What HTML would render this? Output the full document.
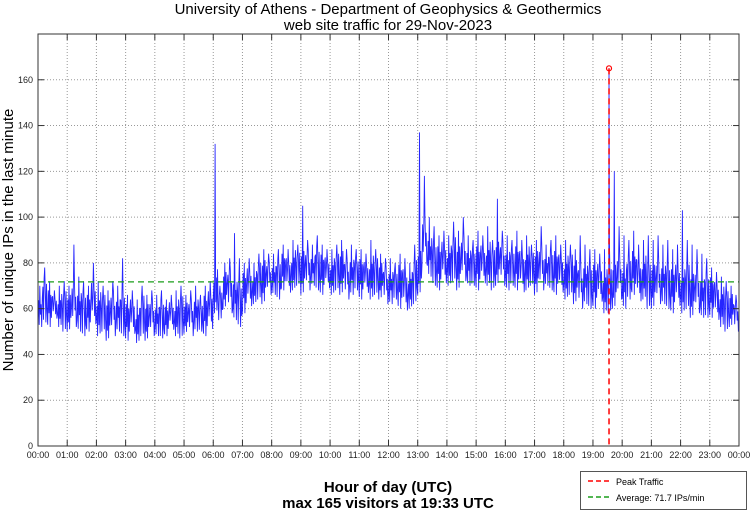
<!DOCTYPE html>
<html><head><meta charset="utf-8"><style>
body{margin:0;background:#fff;font-family:"Liberation Sans",sans-serif;}
svg text{font-family:"Liberation Sans",sans-serif;}
</style></head><body>
<svg id="chart" width="750" height="511" xmlns="http://www.w3.org/2000/svg">
<text x="388" y="14" font-size="15" text-anchor="middle">University of Athens - Department of Geophysics &amp; Geothermics</text>
<text x="388" y="30" font-size="15" text-anchor="middle">web site traffic for 29-Nov-2023</text>
<g id="grid"></g>
<g id="series"></g>
<rect x="38" y="34" width="701" height="412" fill="none" stroke="#333" stroke-width="1"/>
<g id="ticks"></g>
<text transform="translate(13,240) rotate(-90)" font-size="15" text-anchor="middle">Number of unique IPs in the last minute</text>
<text x="388" y="492" font-size="15" font-weight="bold" text-anchor="middle">Hour of day (UTC)</text>
<text x="388" y="508" font-size="15" font-weight="bold" text-anchor="middle">max 165 visitors at 19:33 UTC</text>
<g>
<rect x="580.5" y="471.5" width="166" height="38" fill="#fff" stroke="#555"/>
<line x1="588" y1="481" x2="612" y2="481" stroke="#f00" stroke-width="1.5" stroke-dasharray="5,3"/>
<text x="616" y="485" font-size="9">Peak Traffic</text>
<line x1="588" y1="497" x2="612" y2="497" stroke="#1a9e1a" stroke-width="1.5" stroke-dasharray="5,3"/>
<text x="616" y="501" font-size="9">Average: 71.7 IPs/min</text>
</g>
</svg>
<script>
const hiVals=[70,78,72,68,70,72, 70,88,74,72,70,80, 72,70,68,72,70,82, 66,68,64,70,66,68,
66,68,64,66,68,70, 66,68,70,66,70,72, 132,70,80,82,93,82, 80,82,80,84,86,84,
84,86,88,86,90,88, 105,90,88,92,88,86, 86,88,90,86,88,86, 86,84,90,86,84,82,
82,80,84,82,80,88, 137,118,100,96,92,94, 92,98,94,100,92,90, 94,92,96,90,108,94,
92,90,94,90,92,88, 90,96,88,90,92,88, 90,88,86,92,88,86, 86,84,86,90,120,96,
92,90,94,88,90,92, 90,92,88,90,86,88, 103,90,88,86,84,82, 78,76,74,72,70,66];
const loVals=[52,54,52,55,52,50, 50,52,50,48,50,52, 48,50,46,48,50,48, 46,48,45,48,46,48,
48,47,48,50,48,47, 49,48,50,50,48,50, 58,55,60,58,55,52, 58,60,62,64,62,66,
66,64,68,66,68,70, 66,68,70,68,66,68, 66,68,66,64,66,68, 64,66,64,66,64,62,
62,64,60,58,60,62, 66,80,74,70,68,70, 70,72,68,72,70,70, 68,70,70,68,70,70,
68,70,68,66,68,70, 66,68,70,68,66,66, 64,66,62,60,62,60, 60,62,58,58,60,64,
60,64,66,62,64,60, 60,62,62,60,58,60, 58,60,56,58,56,56, 56,54,52,50,52,50];
const peakMinute=[1173];
const peakValue=[165];
const averageValue=[71.7];
const yTicks=[0,20,40,60,80,100,120,140,160];
const xTickLabels=["00:00","01:00","02:00","03:00","04:00","05:00","06:00","07:00","08:00","09:00","10:00","11:00","12:00","13:00","14:00","15:00","16:00","17:00","18:00","19:00","20:00","21:00","22:00","23:00","00:00"];

const NS="http://www.w3.org/2000/svg";
const X0=38,X1=739,Y0=446,Y1=34,YMAX=180;
const xs=m=>X0+m/1440*(X1-X0);
const ys=v=>Y0-v/YMAX*(Y0-Y1);
function mk(tag,attrs,parent){const e=document.createElementNS(NS,tag);for(const k in attrs)e.setAttribute(k,attrs[k]);parent.appendChild(e);return e;}
const grid=document.getElementById('grid'),ticks=document.getElementById('ticks'),series=document.getElementById('series');
xTickLabels.forEach((lab,i)=>{
  const x=xs(i*60);
  if(i>0&&i<24){const g=mk('line',{x1:x,x2:x,y1:Y1,y2:Y0,stroke:'#999','stroke-dasharray':'1,2'},grid);
  
  }
  const t1=mk('line',{x1:x,x2:x,y1:Y0,y2:Y0-6,stroke:'#333'},ticks);
  
  
  const t2=mk('line',{x1:x,x2:x,y1:Y1,y2:Y1+6,stroke:'#333'},ticks);
  
  
  const tx=mk('text',{x:x,y:458,'font-size':9,'text-anchor':'middle',fill:'#222'},ticks);tx.textContent=lab;
  
  
});
yTicks.forEach(v=>{
  const y=ys(v);
  if(v>0){const g=mk('line',{x1:X0,x2:X1,y1:y,y2:y,stroke:'#999','stroke-dasharray':'1,2'},grid);
  
  }
  const t1=mk('line',{x1:X0,x2:X0+6,y1:y,y2:y,stroke:'#333'},ticks);
  
  
  const t2=mk('line',{x1:X1,x2:X1-6,y1:y,y2:y,stroke:'#333'},ticks);
  
  
  const tx=mk('text',{x:33,y:y+3,'font-size':9,'text-anchor':'end',fill:'#222'},ticks);tx.textContent=v;
  
  
});
// traffic line: each 10-min bin rendered as a min/max envelope trace
const frac=[0.2,0.65,0.05,0.8,0.3,0.55,0,0.7];
let pts=[];
for(let i=0;i<hiVals.length;i++){
  const h=hiVals[i],l=loVals[i],r=Math.min(h-l,24);
  for(let k=0;k<8;k++){
    const m=i*10+k*1.25;
    const v=(k===3)?h:l+r*frac[(k+i)%8];
    pts.push([xs(m),ys(v)]);
    if(m<=peakMinute[0]&&peakMinute[0]<m+1.25){pts.push([xs(peakMinute[0]),ys(peakValue[0])]);}
  }
}
const line=mk('polyline',{points:pts.map(p=>p[0].toFixed(1)+','+p[1].toFixed(1)).join(' '),fill:'none',stroke:'#0000ff','stroke-width':0.9,'stroke-opacity':0.85,'stroke-linejoin':'bevel'},series);


const avg=mk('line',{x1:X0,x2:X1,y1:ys(averageValue[0]),y2:ys(averageValue[0]),stroke:'#1a9e1a','stroke-width':1.3,'stroke-dasharray':'6,4'},series);


const pk=mk('line',{x1:xs(peakMinute[0]),x2:xs(peakMinute[0]),y1:ys(peakValue[0]),y2:Y0,stroke:'#f00','stroke-width':1.5,'stroke-dasharray':'6,4'},series);


const pc=mk('circle',{cx:xs(peakMinute[0]),cy:ys(peakValue[0]),r:2.5,fill:'none',stroke:'#f00','stroke-width':1.2},series);


</script>
</body></html>
